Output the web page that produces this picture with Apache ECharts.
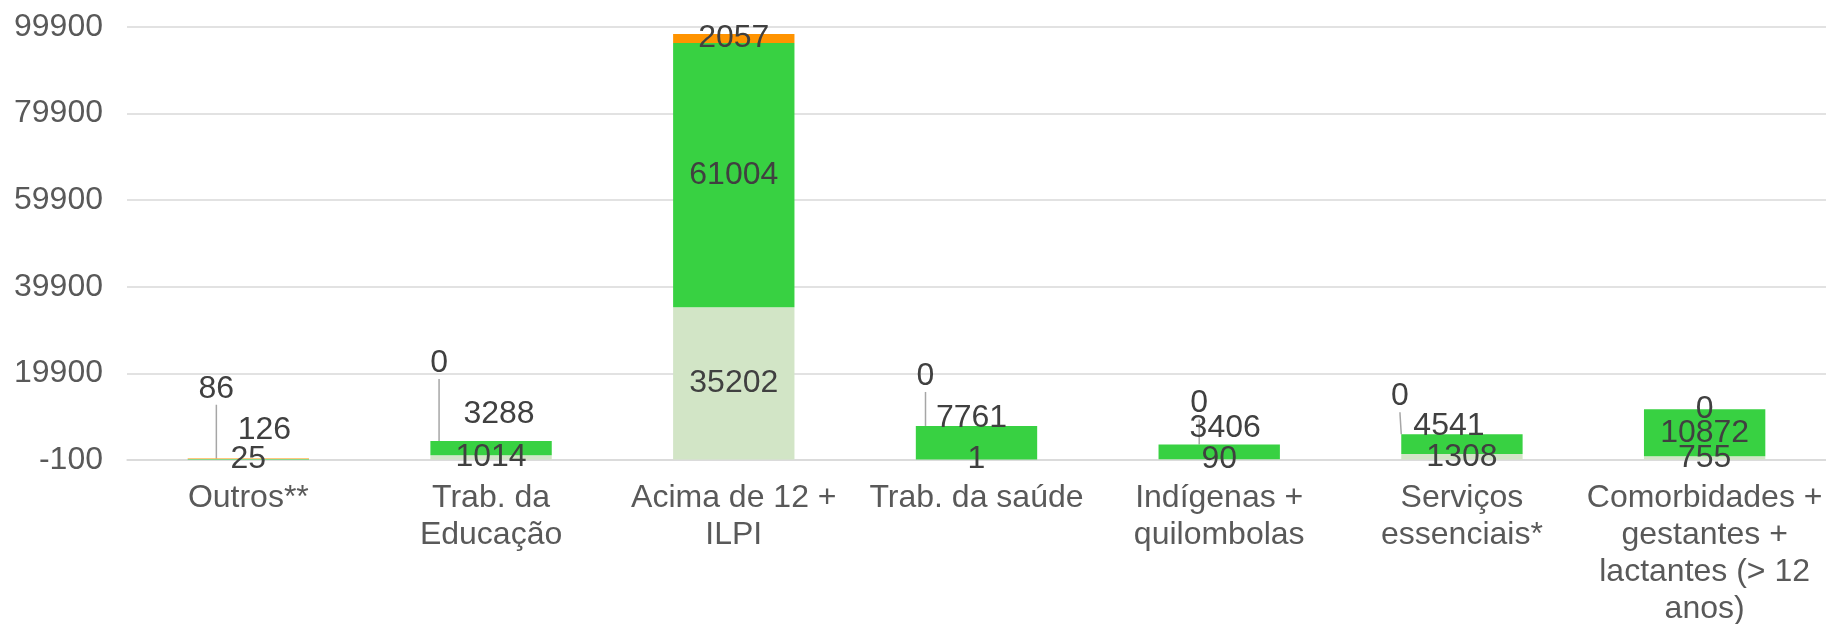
<!DOCTYPE html>
<html>
<head>
<meta charset="utf-8">
<script src="https://cdn.jsdelivr.net/npm/echarts@6/dist/echarts.min.js"></script>
<style>
  html, body { margin: 0; padding: 0; background: #fff; }
  #chart { width: 1826px; height: 624px; }
</style>
</head>
<body>
<div id="chart"></div>
<script>
// categorias e valores
const categories = [
  "Outros**",
  "Trab. da\nEducação",
  "Acima de 12 +\nILPI",
  "Trab. da saúde",
  "Indígenas +\nquilombolas",
  "Serviços\nessenciais*",
  "Comorbidades +\ngestantes +\nlactantes (> 12\nanos)"
];
const baseValues = [25, 1014, 35202, 1, 90, 1308, 755];
const midValues = [126, 3288, 61004, 7761, 3406, 4541, 10872];
const topValues = [86, 0, 2057, 0, 0, 0, 0];

// label moves (like the excel ones)
const midMoves = [[16, -29], [8, -34], [0, 0], [-5, -25], [6, -24], [-13, -18], [0, 0]];
const topMoves = [[-32, -70], [-52, -78], [0, 0], [-51, -50], [-20, -41], [-62, -38], [0, 0]];

const FONT = "Liberation Sans, Arial, sans-serif";

const labelFont = {
  show: true,
  position: "inside",
  color: "#404040",
  fontSize: 32,
  fontFamily: FONT
};

let myChart = echarts.init(document.getElementById("chart"));
myChart.setOption({
  animation: false,
  grid: { left: 127, right: 0, top: 27, bottom: 164, outerBoundsMode: "none", containLabel: false },
  xAxis: {
    type: "category",
    data: categories,
    axisTick: { show: false },
    axisLine: { lineStyle: { color: "#D9D9D9", width: 1.5 } },
    axisLabel: {
      color: "#595959",
      fontSize: 32,
      lineHeight: 37,
      margin: 20,
      interval: 0,
      fontFamily: FONT
    }
  },
  yAxis: {
    type: "value",
    min: -100,
    max: 99900,
    interval: 20000,
    axisLine: { show: false },
    axisTick: { show: false },
    splitLine: { lineStyle: { color: "#D9D9D9", width: 1.5 } },
    axisLabel: {
      color: "#595959",
      fontSize: 32,
      margin: 24,
      fontFamily: FONT,
      formatter: function (v) { return String(v); }
    }
  },
  series: [
    {
      type: "bar",
      stack: "total",
      barCategoryGap: "50%",
      data: baseValues,
      itemStyle: { color: "#D2E5C6" },
      label: labelFont
    },
    {
      type: "bar",
      stack: "total",
      data: midValues,
      itemStyle: { color: "#38D142" },
      label: labelFont,
      labelLayout: function (p) {
        let m = midMoves[p.dataIndex];
        return { dx: m[0], dy: m[1] };
      }
    },
    {
      type: "bar",
      stack: "total",
      data: topValues,
      itemStyle: { color: "#FF9300" },
      label: labelFont,
      labelLine: { show: true, lineStyle: { color: "#A6A6A6", width: 1.5 } },
      labelLayout: function (p) {
        let m = topMoves[p.dataIndex];
        return { dx: m[0], dy: m[1] };
      }
    }
  ]
});
</script>
</body>
</html>
